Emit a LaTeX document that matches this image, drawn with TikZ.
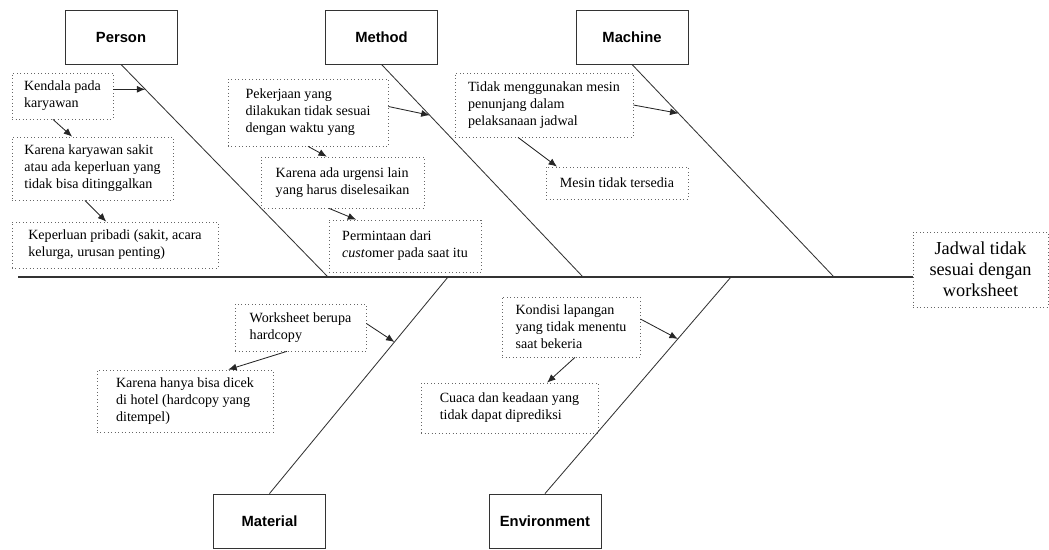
\documentclass[tikz,border=0pt]{standalone}
\usepackage{fontspec}
\setmainfont{Liberation Serif}
\setsansfont{Liberation Sans}
\usetikzlibrary{arrows.meta}

\begin{document}
\begin{tikzpicture}[
    x=0.025cm, y=-0.025cm,
    category/.style={draw=black!80, line width=0.6pt, minimum width=2.8cm, minimum height=1.35cm, font=\sffamily\bfseries\fontsize{10.5}{12}\selectfont},
    cause/.style={draw=black!60, dotted, line width=0.5pt, align=left, inner sep=0pt, font=\fontsize{10}{12}\selectfont},
    bone/.style={draw=black!80, line width=0.6pt},
    arrow/.style={-{Latex[length=6pt, width=5pt]}, line width=0.6pt, black!85}
]
\useasboundingbox (0,0) rectangle (1049,550);

% categories
\node[category] (person) at (121,37) {Person};
\node[category] (method) at (381.5,37) {Method};
\node[category] (machine) at (632,37) {Machine};
\node[category] (material) at (269.5,521) {Material};
\node[category] (environment) at (545,521) {Environment};

% effect
\node[cause, align=center, minimum width=3.375cm, minimum height=1.875cm, font=\fontsize{13}{15}\selectfont] (effect) at (980.5,269.5) {Jadwal tidak\\sesuai dengan\\worksheet};

% spine and bones
\coordinate (tail) at (18,277);
\coordinate (pj) at (328,277);
\coordinate (mj) at (583,277);
\coordinate (cj) at (834,277);
\coordinate (tj) at (448,277);
\coordinate (ej) at (731,277);
\draw[bone, line width=0.8pt] (tail) -- (tail -| effect.west);
\draw[bone] (person.south) -- (pj) coordinate[pos=0.117] (pa);
\draw[bone] (method.south) -- (mj) coordinate[pos=0.239] (ma);
\draw[bone] (machine.south) -- (cj) coordinate[pos=0.23] (ca);
\draw[bone] (material.north) -- (tj) coordinate[pos=0.70] (ta);
\draw[bone] (environment.north) -- (ej) coordinate[pos=0.714] (ea);

% person causes
\node[cause, minimum width=2.525cm, minimum height=1.15cm] (p1) at (62.5,96) {Kendala pada\\karyawan};
\node[cause, minimum width=4.025cm, minimum height=1.575cm] (p2) at (92.5,168.5) {Karena karyawan sakit\\atau ada keperluan yang\\tidak bisa ditinggalkan};
\node[cause, minimum width=5.15cm, minimum height=1.15cm] (p3) at (115,245) {Keperluan pribadi (sakit, acara\\kelurga, urusan penting)};

% method causes
\node[cause, minimum width=4cm, minimum height=1.675cm] (m1) at (308,112.5) {Pekerjaan yang\\dilakukan tidak sesuai\\dengan waktu yang};
\node[cause, minimum width=4.075cm, minimum height=1.275cm] (m2) at (342.5,182.5) {Karena ada urgensi lain\\yang harus diselesaikan};
\node[cause, minimum width=3.8cm, minimum height=1.3cm] (m3) at (405,246) {Permintaan dari\\\textit{cust}omer pada saat itu};

% machine causes
\node[cause, minimum width=4.45cm, minimum height=1.6cm] (c1) at (544,105) {Tidak menggunakan mesin\\penunjang dalam\\pelaksanaan jadwal};
\node[cause, minimum width=3.55cm, minimum height=0.8cm] (c2) at (617,183) {Mesin tidak tersedia};

% material causes
\node[cause, minimum width=3.275cm, minimum height=1.175cm] (t1) at (300.5,327.5) {Worksheet berupa\\hardcopy};
\node[cause, minimum width=4.4cm, minimum height=1.55cm] (t2) at (185,401) {Karena hanya bisa dicek\\di hotel (hardcopy yang\\ditempel)};

% environment causes
\node[cause, minimum width=3.45cm, minimum height=1.5cm] (e1) at (571,327) {Kondisi lapangan\\yang tidak menentu\\saat bekeria};
\node[cause, minimum width=4.425cm, minimum height=1.25cm] (e2) at (509.5,408) {Cuaca dan keadaan yang\\tidak dapat diprediksi};

% arrows
\draw[arrow] (p1.east |- pa) -- (pa);
\draw[arrow] ([xshift=-0.24cm]p1.south) -- ([xshift=-0.51cm]p2.north);
\draw[arrow] ([xshift=-0.19cm]p2.south) -- ([xshift=-0.22cm]p3.north);
\draw[arrow] ([yshift=0.15cm]m1.east) -- (ma);
\draw[arrow] (m1.south) -- ([xshift=-0.39cm]m2.north);
\draw[arrow] ([xshift=-0.34cm]m2.south) -- ([xshift=-1.22cm]m3.north);
\draw[arrow] (c1.east) -- (ca);
\draw[arrow] ([xshift=-0.65cm]c1.south) -- ([xshift=-1.5cm]c2.north);
\draw[arrow] ([yshift=0.1cm]t1.east) -- (ta);
\draw[arrow] ([xshift=-0.34cm]t1.south) -- ([xshift=1.08cm]t2.north);
\draw[arrow] ([yshift=0.2cm]e1.east) -- (ea);
\draw[arrow] ([xshift=0.1cm]e1.south) -- ([xshift=0.94cm]e2.north);
\end{tikzpicture}
\end{document}
